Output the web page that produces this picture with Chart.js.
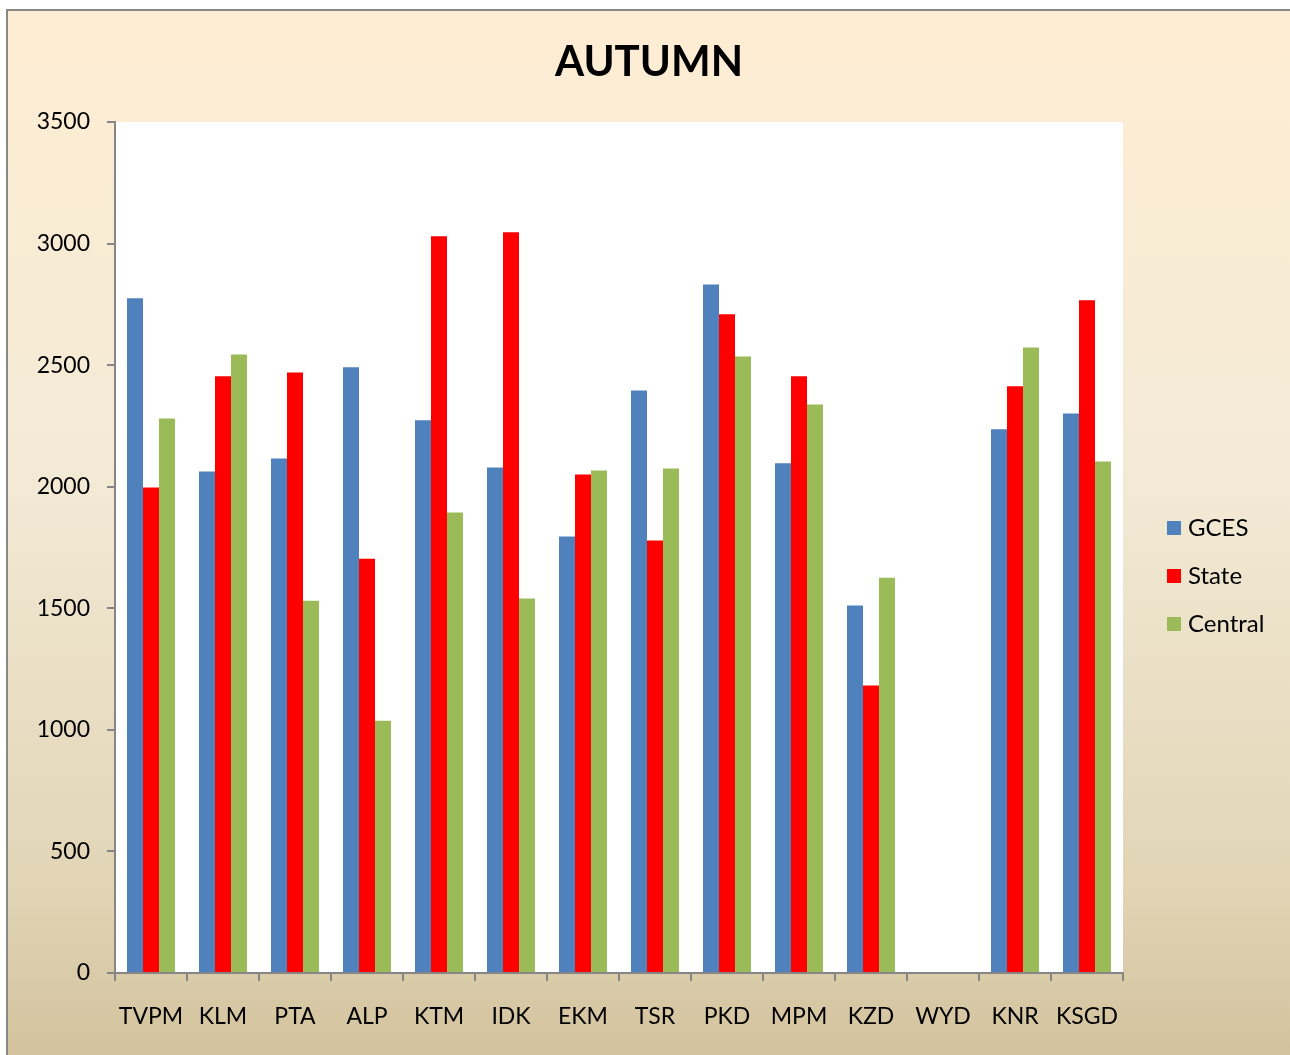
<!DOCTYPE html>
<html>
<head>
<meta charset="utf-8">
<title>AUTUMN</title>
<script src="https://cdn.jsdelivr.net/npm/chart.js@4.4.1/dist/chart.umd.min.js"></script>
<style>
  html, body { margin: 0; padding: 0; background: #fff; }
  #wrap { width: 1290px; height: 1055px; }
</style>
</head>
<body>
<div id="wrap"><canvas id="graficoAutunno" width="1290" height="1055"></canvas></div>
<script>
const chartTitle = 'AUTUMN';
const districts = ['TVPM', 'KLM', 'PTA', 'ALP', 'KTM', 'IDK', 'EKM', 'TSR', 'PKD', 'MPM', 'KZD', 'WYD', 'KNR', 'KSGD'];
const gces    = [2775, 2063, 2116, 2491, 2273, 2079, 1795, 2396, 2832, 2096, 1511, null, 2236, 2301];
const state   = [1997, 2454, 2470, 1704, 3030, 3047, 2050, 1779, 2709, 2454, 1182, null, 2413, 2767];
const central = [2281, 2544, 1531, 1037, 1894, 1540, 2067, 2075, 2536, 2338, 1626, null, 2573, 2104];
const yTicks  = [0, 500, 1000, 1500, 2000, 2500, 3000, 3500];

const FONT = 'Lato, Calibri, "Open Sans", sans-serif';

// sfondo a gradiente + area bianca del grafico
const sfondo = {
  id: 'sfondo',
  beforeDraw(chart) {
    const { ctx, chartArea: a } = chart;
    ctx.save();
    const g = ctx.createLinearGradient(0, 10, 0, 1055);
    g.addColorStop(0, '#feedd3');
    g.addColorStop(0.45, '#f3ead6');
    g.addColorStop(0.85, '#e0d4b4');
    g.addColorStop(1, '#d3c29d');
    ctx.fillStyle = g;
    ctx.fillRect(7, 10, 1283, 1045);
    ctx.strokeStyle = '#888888';
    ctx.lineWidth = 2;
    ctx.beginPath();
    ctx.moveTo(7, 1055);
    ctx.lineTo(7, 10);
    ctx.lineTo(1290, 10);
    ctx.stroke();
    ctx.fillStyle = '#ffffff';
    ctx.fillRect(a.left, a.top, a.right - a.left, a.bottom - a.top);
    ctx.restore();
  },
  afterDraw(chart) {
    const { ctx } = chart;
    ctx.save();
    // titolo
    ctx.fillStyle = '#000';
    ctx.font = 'bold 42px ' + FONT;
    ctx.textAlign = 'center';
    ctx.textBaseline = 'middle';
    ctx.fillText(chartTitle, 649, 62);
    // legenda
    ctx.font = '24px ' + FONT;
    ctx.textAlign = 'left';
    chart.data.datasets.forEach((ds, i) => {
      const y = 528 + i * 48;
      ctx.fillStyle = ds.backgroundColor;
      ctx.fillRect(1167, y - 7, 14, 14);
      ctx.fillStyle = '#000';
      ctx.fillText(ds.label, 1188, y);
    });
    ctx.restore();
  }
};

new Chart(document.getElementById('graficoAutunno'), {
  type: 'bar',
  data: {
    labels: districts,
    datasets: [
      { label: 'GCES', data: gces, backgroundColor: '#4f81bd' },
      { label: 'State', data: state, backgroundColor: '#ff0000' },
      { label: 'Central', data: central, backgroundColor: '#9bbb59' }
    ]
  },
  options: {
    responsive: false,
    animation: false,
    layout: { padding: { top: 122, left: 0, right: 167, bottom: 0 } },
    datasets: { bar: { categoryPercentage: 0.667, barPercentage: 1 } },
    plugins: {
      legend: { display: false },
      title: { display: false },
      tooltip: { enabled: false }
    },
    scales: {
      x: {
        grid: { display: true, drawOnChartArea: false, offset: true, tickLength: 8, color: '#868686', lineWidth: 2 },
        border: { color: '#868686', width: 2 },
        ticks: { color: '#000', font: { family: FONT, size: 23 }, padding: 22, maxRotation: 0, autoSkip: false },
        afterFit: s => { s.height = 82; }
      },
      y: {
        min: 0,
        max: 3500,
        afterBuildTicks: s => { s.ticks = yTicks.map(v => ({ value: v })); },
        grid: { display: true, drawOnChartArea: false, tickLength: 8, color: '#868686', lineWidth: 2 },
        border: { color: '#868686', width: 2 },
        ticks: { color: '#000', font: { family: FONT, size: 23 }, padding: 17, callback: v => String(v) },
        afterFit: s => { s.width = 115; }
      }
    }
  },
  plugins: [sfondo]
});
</script>
</body>
</html>
